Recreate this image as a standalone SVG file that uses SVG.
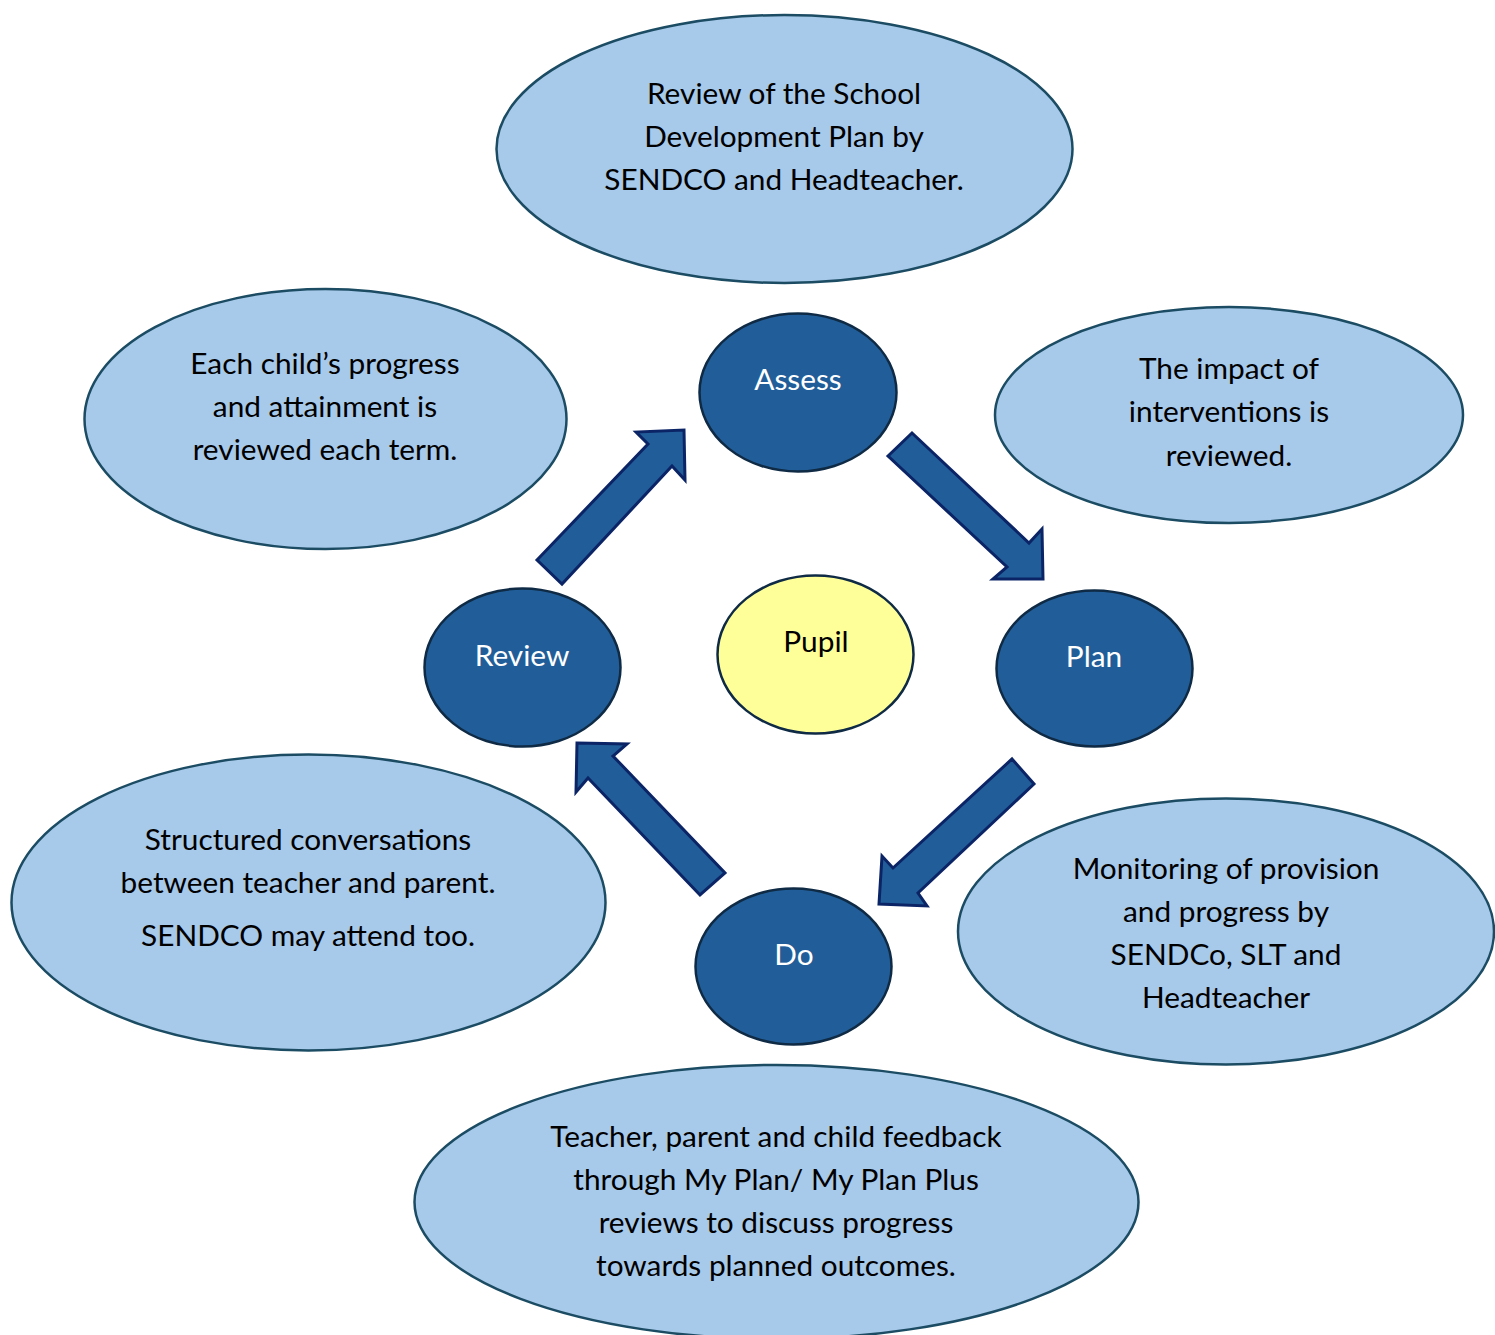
<svg xmlns="http://www.w3.org/2000/svg" width="1495" height="1335" viewBox="0 0 1495 1335">
<style>
.lt{fill:#A7C9EA;stroke:#1B4C63;stroke-width:2.5}
.dk{fill:#215E99;stroke:#0F2A44;stroke-width:2.5}
.pu{fill:#FFFF99;stroke:#0F2A44;stroke-width:2.5}
.ar{fill:#215E99;stroke:#0B2466;stroke-width:3;stroke-linejoin:miter}
text{font-family:Lato,"Open Sans","Liberation Sans",sans-serif;font-size:29.8px;text-anchor:middle;fill:#000}
.w{fill:#fff}
</style>
<rect width="1495" height="1335" fill="#fff"/>
<g id="connectors">
<polygon class="ar" points="537,560 648,444 636,432 684,430 685,480 672,466 562,584"/>
<polygon class="ar" points="888,456 912,433 1029,543 1042,529 1043,579 993,579 1007,567"/>
<polygon class="ar" points="1012,759 1034,784 918,893 927,906 879,904 882,856 893,868"/>
<polygon class="ar" points="577,743 627,744 613,756 725,873 700,895 588,778 576,792"/>
</g>
<g id="n-top"><ellipse class="lt" cx="784.5" cy="149" rx="288" ry="134"/>
<text x="784" y="104">Review of the School</text><text x="784" y="147">Development Plan by</text><text x="784" y="190">SENDCO and Headteacher.</text></g>
<g id="n-lefttop"><ellipse class="lt" cx="325.5" cy="419" rx="241" ry="130"/>
<text x="325" y="374">Each child’s progress</text><text x="325" y="417">and attainment is</text><text x="325" y="460">reviewed each term.</text></g>
<g id="n-righttop"><ellipse class="lt" cx="1229" cy="415" rx="234" ry="108"/>
<text x="1229" y="379">The impact of</text><text x="1229" y="422">interventions is</text><text x="1229" y="466">reviewed.</text></g>
<g id="n-leftbottom"><ellipse class="lt" cx="308.5" cy="902.5" rx="297" ry="148"/>
<text x="308" y="850">Structured conversations</text><text x="308" y="893">between teacher and parent.</text><text x="308" y="946">SENDCO may attend too.</text></g>
<g id="n-rightbottom"><ellipse class="lt" cx="1226" cy="931.5" rx="268" ry="133"/>
<text x="1226" y="879">Monitoring of provision</text><text x="1226" y="922">and progress by</text><text x="1226" y="965">SENDCo, SLT and</text><text x="1226" y="1008">Headteacher</text></g>
<g id="n-bottom"><ellipse class="lt" cx="776.5" cy="1202" rx="362" ry="137"/>
<text x="776" y="1147">Teacher, parent and child feedback</text><text x="776" y="1190">through My Plan/ My Plan Plus</text><text x="776" y="1233">reviews to discuss progress</text><text x="776" y="1276">towards planned outcomes.</text></g>
<g id="n-assess"><ellipse class="dk" cx="798" cy="392.5" rx="98.5" ry="79"/><text class="w" x="798" y="390">Assess</text></g>
<g id="n-plan"><ellipse class="dk" cx="1094.5" cy="668.5" rx="98" ry="78"/><text class="w" x="1094" y="667">Plan</text></g>
<g id="n-review"><ellipse class="dk" cx="522.5" cy="667.5" rx="98" ry="79"/><text class="w" x="522" y="666">Review</text></g>
<g id="n-do"><ellipse class="dk" cx="793.5" cy="966.5" rx="98" ry="78"/><text class="w" x="794" y="965">Do</text></g>
<g id="n-pupil"><ellipse class="pu" cx="815.5" cy="654.5" rx="98" ry="79"/><text x="816" y="652">Pupil</text></g>
</svg>
